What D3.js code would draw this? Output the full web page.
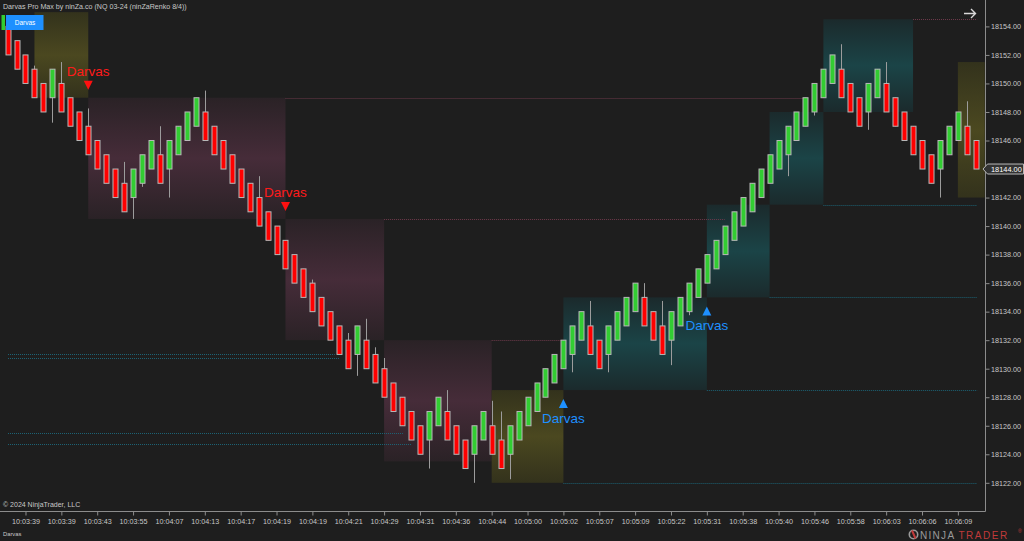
<!DOCTYPE html>
<html><head><meta charset="utf-8">
<script src="https://cdn.jsdelivr.net/npm/d3@7/dist/d3.min.js"></script>
<style>html,body{margin:0;padding:0;background:#1e1e1e;overflow:hidden}svg{display:block}</style>
</head><body><svg id="c" width="1024" height="541"></svg>
<script>
// ---- data ----
const opens = [18154,18153,18152,18151,18150,18149,18150,18149,18148,18147,18146,18145,18144,18143,18142,18143,18144,18145,18144,18145,18146,18147,18148,18147,18146,18145,18144,18143,18142,18141,18140,18139,18138,18137,18136,18135,18134,18133,18132,18131,18132,18131,18130,18129,18128,18127,18126,18125,18126,18127,18126,18125,18124,18125,18126,18125,18124,18125,18126,18127,18128,18129,18130,18131,18132,18133,18132,18131,18132,18133,18134,18135,18134,18133,18132,18133,18134,18135,18136,18137,18138,18139,18140,18141,18142,18143,18144,18145,18146,18147,18148,18149,18150,18151,18150,18149,18148,18149,18150,18149,18148,18147,18146,18145,18144,18145,18146,18147,18146];
const closes = [18152,18151,18150,18149,18148,18151,18148,18147,18146,18145,18144,18143,18142,18141,18144,18145,18146,18143,18146,18147,18148,18149,18146,18145,18144,18143,18142,18141,18140,18139,18138,18137,18136,18135,18134,18133,18132,18131,18130,18133,18130,18129,18128,18127,18126,18125,18124,18127,18128,18125,18124,18123,18126,18127,18124,18123,18126,18127,18128,18129,18130,18131,18132,18133,18134,18131,18130,18133,18134,18135,18136,18133,18132,18131,18134,18135,18136,18137,18138,18139,18140,18141,18142,18143,18144,18145,18146,18147,18148,18149,18150,18151,18152,18149,18148,18147,18150,18151,18148,18147,18146,18145,18144,18143,18146,18147,18148,18145,18144];
// bar number -> wick extreme
const wickHighs = [[4,18151.25],[7,18151.5],[10,18148.25],[14,18144.5],[18,18147],[23,18149.5],[29,18143.5],[35,18136.25],[39,18132.5],[41,18133.5],[42,18131.5],[43,18130.75],[50,18128.5],[55,18127.75],[56,18127],[66,18134.75],[72,18136],[74,18134.75],[94,18152.75],[99,18151.5],[108,18148.75]];
const wickLows = [[6,18147.25],[15,18140.5],[16,18142.75],[19,18142],[40,18129.5],[48,18123],[53,18122],[57,18122.25],[64,18129.75],[68,18129.75],[75,18130.25],[77,18133.75],[88,18143.5],[91,18147.75],[97,18146.75],[105,18142]];
const tickBars = [3,7,11,15,19,23,27,31,35,39,43,47,51,55,59,63,67,71,75,79,83,87,91,95,99,103,107];
const tickLabels = ["10:03:39","10:03:39","10:03:43","10:03:55","10:04:07","10:04:13","10:04:17","10:04:19","10:04:19","10:04:21","10:04:29","10:04:31","10:04:36","10:04:44","10:05:00","10:05:02","10:05:07","10:05:09","10:05:22","10:05:31","10:05:38","10:05:40","10:05:46","10:05:58","10:06:03","10:06:06","10:06:09"];
const yTicks = [18122,18124,18126,18128,18130,18132,18134,18136,18138,18140,18142,18144,18146,18148,18150,18152,18154];
const boxFrom = [4,10,32,43,55,63,79,86,92,107];
const boxTo = [10,32,43,55,63,79,86,92,102,110];
const boxTop = [18155,18149,18140.5,18132,18128.5,18135,18141.5,18148,18154.5,18151.5];
const boxBottom = [18149,18140.5,18132,18123.5,18122,18128.5,18135,18141.5,18148,18142];
const boxKind = ["flat","down","down","down","flat","up","up","up","up","flat"];
const levelPrice = [18149,18140.5,18132,18128.5,18122,18135,18141.5,18154.5,18131,18130.75,18125.5,18124.75];
const levelFrom = [32,43,55,79,63,86,92,102,1.05,1.05,1.05,1.05];
const levelTo = [90.3,81,62.8,109.15,109.15,109.15,109.15,109.15,37.5,38,45.1,46.1];
const levelKind = ["down","down","down","up","up","up","up","down","up","up","up","up"];
const signalBar = [10,32,63,79];
const signalLevel = [18149,18140.5,18128.5,18135];
const signalDir = ["down","down","up","up"];
const lastPrice = 18144;

// ---- scales ----
const svg = d3.select("#c");
const W = 1024, H = 541, plotR = 985.5, plotB = 511.5;
const x = d3.scaleLinear().domain([0,109]).range([-1.4,975.8]);
const y = d3.scaleLinear().domain([18122,18154]).range([482.8,26.4]);
const font = "'Liberation Sans', Arial, sans-serif";

svg.append("rect").attr("width",W).attr("height",H).attr("fill","#1e1e1e");
const defs = svg.append("defs");
defs.append("clipPath").attr("id","plot").append("rect").attr("x",0).attr("y",0).attr("width",plotR).attr("height",plotB);
const grad = {flat:["#33321c","#4b4820"], down:["#2a2226","#462c39"], up:["#1b2a2c","#1b4447"]};
Object.entries(grad).forEach(([k,[e,m]])=>{
  const g = defs.append("linearGradient").attr("id","g"+k).attr("x1",0).attr("y1",0).attr("x2",0).attr("y2",1);
  g.append("stop").attr("offset","0").attr("stop-color",e);
  g.append("stop").attr("offset","0.5").attr("stop-color",m);
  g.append("stop").attr("offset","1").attr("stop-color",e);
});
const plot = svg.append("g").attr("clip-path","url(#plot)");

// boxes
plot.selectAll("rect.box").data(boxFrom.map((f,i)=>({f,t:boxTo[i],top:boxTop[i],bot:boxBottom[i],k:boxKind[i]})))
 .join("rect").attr("class","box")
 .attr("x",d=>x(d.f)).attr("width",d=>x(d.t)-x(d.f))
 .attr("y",d=>y(d.top)).attr("height",d=>y(d.bot)-y(d.top))
 .attr("fill",d=>"url(#g"+d.k+")");

// levels
const levelColor = {down:"#6e3a4b", up:"#1c6274"};
plot.selectAll("line.lvl").data(levelPrice.map((p,i)=>({p,f:levelFrom[i],t:levelTo[i],k:levelKind[i]})))
 .join("line").attr("class","lvl")
 .attr("x1",d=>x(d.f)).attr("x2",d=>x(d.t))
 .attr("y1",d=>Math.round(y(d.p))+0.5).attr("y2",d=>Math.round(y(d.p))+0.5)
 .attr("stroke",d=>levelColor[d.k]).attr("stroke-width",1).attr("stroke-dasharray","1,1");

// candles
const bars = closes.map((c,i)=>({i:i+1,o:opens[i],c,h:Math.max(opens[i],c),l:Math.min(opens[i],c)}));
wickHighs.forEach(([b,v])=>{bars[b-1].h=v;});
wickLows.forEach(([b,v])=>{bars[b-1].l=v;});
plot.selectAll("line.wick").data(bars).join("line").attr("class","wick")
 .attr("x1",d=>Math.round(x(d.i))+0.5).attr("x2",d=>Math.round(x(d.i))+0.5)
 .attr("y1",d=>y(d.h)).attr("y2",d=>y(d.l)).attr("stroke","#9c9c9c").attr("stroke-width",1);
plot.selectAll("rect.body").data(bars).join("rect").attr("class","body")
 .attr("x",d=>Math.round(x(d.i))-2).attr("width",5)
 .attr("y",d=>y(Math.max(d.o,d.c))).attr("height",d=>y(Math.min(d.o,d.c))-y(Math.max(d.o,d.c)))
 .attr("fill",d=>d.c>d.o?"#32cd32":"#ff0000").attr("stroke","#b8b8b8").attr("stroke-width",1);

// signals
signalBar.forEach((b,i)=>{
  const cx = x(b), lv = y(signalLevel[i]);
  if(signalDir[i]==="down"){
    const tip = lv-8;
    plot.append("path").attr("d",`M${cx-4.5},${tip-9}L${cx+4.5},${tip-9}L${cx},${tip}Z`).attr("fill","#ff1010");
    plot.append("text").attr("x",cx).attr("y",tip-14).attr("text-anchor","middle")
      .attr("font-family",font).attr("font-size",13.5).attr("fill","#ff1a1a").text("Darvas");
  } else {
    const tip = lv+9;
    plot.append("path").attr("d",`M${cx-4.5},${tip+9}L${cx+4.5},${tip+9}L${cx},${tip}Z`).attr("fill","#1e90ff");
    plot.append("text").attr("x",cx).attr("y",tip+24).attr("text-anchor","middle")
      .attr("font-family",font).attr("font-size",13.5).attr("fill","#1e90ff").text("Darvas");
  }
});

// axes
const axisColor = "#8c8c8c", txtColor = "#c8c8c8";
const xa = svg.append("g").attr("transform",`translate(0,${plotB})`)
 .call(d3.axisBottom(x).tickValues(tickBars).tickSize(4).tickFormat((d,i)=>tickLabels[i]));
xa.select(".domain").remove();
xa.selectAll(".tick line").attr("stroke",axisColor);
xa.selectAll(".tick text").attr("fill",txtColor).attr("font-family",font).attr("font-size",7.2).attr("dy","0.35em").attr("y",9.5);
const ya = svg.append("g").attr("transform",`translate(${plotR},0)`)
 .call(d3.axisRight(y).tickValues(yTicks).tickSize(4).tickFormat(d3.format(".2f")));
ya.select(".domain").remove();
ya.selectAll(".tick line").attr("stroke",axisColor);
ya.selectAll(".tick text").attr("fill",txtColor).attr("font-family",font).attr("font-size",7.2).attr("x",5.5);
svg.append("path").attr("d",`M0,${plotB}H${plotR}V0`).attr("fill","none").attr("stroke",axisColor).attr("stroke-width",1);

// price marker
const py = y(lastPrice);
svg.append("path").attr("d",`M${plotR-2.5},${py}L${plotR+2},${py-5}H1023.5V${py+5}H${plotR+2}Z`)
 .attr("fill","#333333").attr("stroke","#b8b8b8").attr("stroke-width",1);
svg.append("text").attr("x",991).attr("y",py+2.6).attr("font-family",font).attr("font-size",7.4).attr("fill","#ffffff").text(d3.format(".2f")(lastPrice));

// title & labels
svg.append("text").attr("x",3).attr("y",9).attr("font-family",font).attr("font-size",7.1).attr("fill","#c8c8c8")
 .text("Darvas Pro Max by ninZa.co (NQ 03-24 (ninZaRenko 8/4))");
svg.append("rect").attr("x",1.5).attr("y",15).attr("width",3.5).attr("height",15).attr("fill","#32cd32");
svg.append("rect").attr("x",6).attr("y",15).attr("width",37.5).attr("height",15).attr("fill","#1e90ff");
svg.append("text").attr("x",25).attr("y",25).attr("text-anchor","middle").attr("font-family",font).attr("font-size",6.5).attr("fill","#ffffff").text("Darvas");
svg.append("text").attr("x",3).attr("y",506.5).attr("font-family",font).attr("font-size",7).attr("fill","#c8c8c8").text("© 2024 NinjaTrader, LLC");
svg.append("text").attr("x",3).attr("y",536).attr("font-family",font).attr("font-size",5.8).attr("fill","#c8c8c8").text("Darvas");
// arrow top right
svg.append("path").attr("d","M964,13.5H975.5M971,9L975.5,13.5L971,18").attr("fill","none").attr("stroke","#d8d8d8").attr("stroke-width",1.4);

// NinjaTrader logo
const lg = svg.append("g");
lg.append("circle").attr("cx",913.5).attr("cy",534.5).attr("r",4.2).attr("fill","none").attr("stroke","#9a9a9a").attr("stroke-width",1.6);
lg.append("path").attr("d","M912,530.5L915.5,538.5").attr("stroke","#c03a3a").attr("stroke-width",2);
lg.append("text").attr("x",920).attr("y",538.5).attr("font-family",font).attr("font-size",10).attr("fill","#9a9a9a").attr("letter-spacing",1.3).text("NINJA");
lg.append("text").attr("x",958.5).attr("y",538.5).attr("font-family",font).attr("font-size",10).attr("fill","#c03a3a").attr("letter-spacing",1.5).text("TRADER");
lg.append("text").attr("x",1018).attr("y",533).attr("font-family",font).attr("font-size",5).attr("fill","#c03a3a").text("®");
</script></body></html>
